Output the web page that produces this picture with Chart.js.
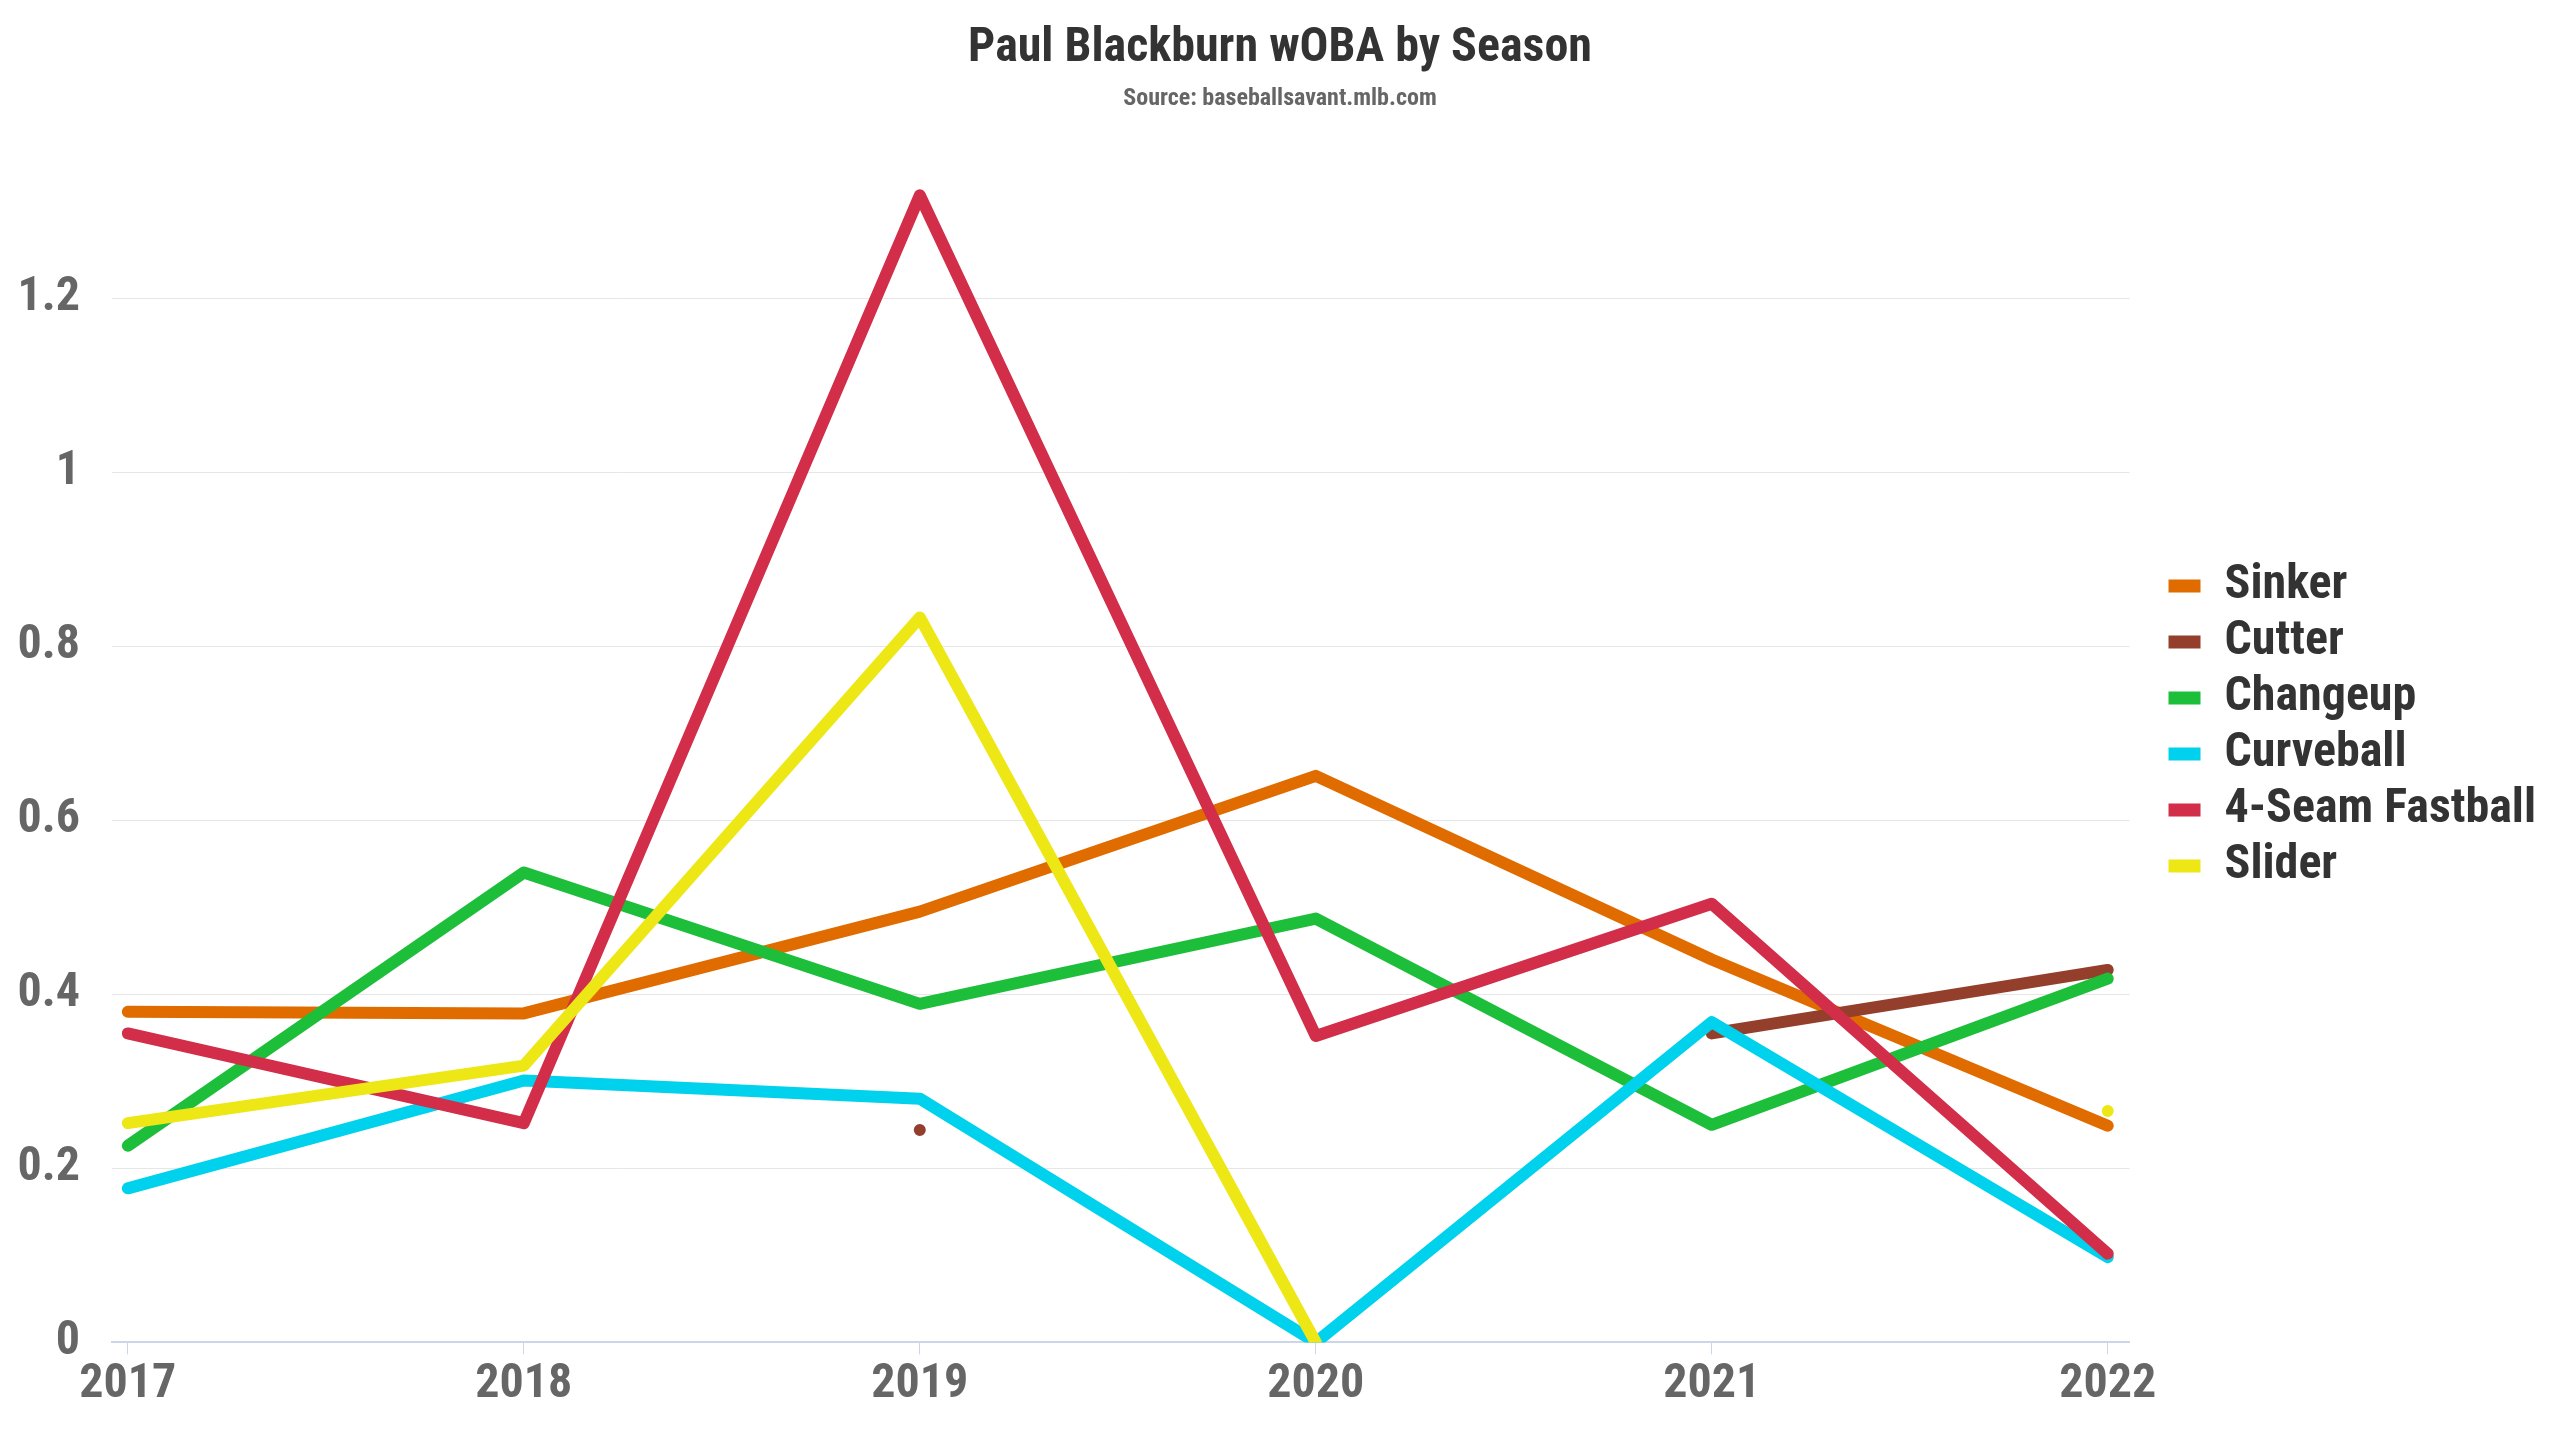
<!DOCTYPE html>
<html>
<head>
<meta charset="utf-8">
<script src="https://cdn.jsdelivr.net/npm/chart.js@4"></script>
<style>
  html, body { margin: 0; padding: 0; background: #ffffff; }
  #wrap { width: 2560px; height: 1440px; }
</style>
</head>
<body>
<div id="wrap"><canvas id="c"></canvas></div>
<script>
const seasons = [2017, 2018, 2019, 2020, 2021, 2022];
const yTicks = [0, 0.2, 0.4, 0.6, 0.8, 1, 1.2];
const seriesNames = ['Sinker', 'Cutter', 'Changeup', 'Curveball', '4-Seam Fastball', 'Slider'];
const sinker    = [0.380, 0.378, 0.495, 0.651, 0.440, 0.249];
const cutter    = [null, null, 0.244, null, 0.355, 0.428];
const changeup  = [0.226, 0.540, 0.389, 0.487, 0.250, 0.418];
const curveball = [0.177, 0.301, 0.280, 0.000, 0.368, 0.098];
const fourSeam  = [0.355, 0.252, 1.318, 0.352, 0.504, 0.102];
const slider    = [0.252, 0.318, 0.833, 0.000, null, 0.266];
const seriesValues = [sinker, cutter, changeup, curveball, fourSeam, slider];
const seriesColors = ['#E06C00', '#933F2C', '#1DBE3A', '#00D1ED', '#D22D49', '#EEE716'];

const FONT = "'Roboto Condensed', 'Liberation Sans Narrow', 'DejaVu Sans Condensed', sans-serif";

function isolatedRadius(ctx) {
  const d = ctx.dataset.data;
  const i = ctx.dataIndex;
  const prev = d[i - 1], next = d[i + 1];
  const cur = d[i];
  if (!cur || cur.y == null) return 0;
  const prevNull = !prev || prev.y == null;
  const nextNull = !next || next.y == null;
  return (prevNull && nextNull) ? 3 : 0;
}

const datasets = seriesNames.map((name, si) => ({
  label: name,
  data: seasons.map((s, i) => ({ x: s, y: seriesValues[si][i] })),
  borderColor: seriesColors[si],
  backgroundColor: seriesColors[si],
  pointBackgroundColor: seriesColors[si],
  borderWidth: 12,
  borderCapStyle: 'round',
  borderJoinStyle: 'round',
  pointRadius: isolatedRadius,
  pointHoverRadius: isolatedRadius,
  pointBorderWidth: 0,
  spanGaps: false,
  tension: 0,
  fill: false,
  clip: 0,
  order: seriesNames.length - 1 - si
}));

new Chart(document.getElementById('c'), {
  type: 'line',
  data: { datasets },
  options: {
    responsive: true,
    maintainAspectRatio: false,
    animation: false,
    devicePixelRatio: 1,
    layout: { padding: { left: 14, right: 14, top: 0, bottom: 24 } },
    plugins: {
      title: {
        display: true,
        text: 'Paul Blackburn wOBA by Season',
        color: '#333333',
        font: { family: FONT, size: 48, weight: 'bold' },
        padding: { top: 20, bottom: 0 }
      },
      subtitle: {
        display: true,
        text: 'Source: baseballsavant.mlb.com',
        color: '#666666',
        font: { family: FONT, size: 24, weight: 'bold' },
        padding: { top: 7, bottom: 28 }
      },
      legend: {
        display: true,
        position: 'right',
        align: 'center',
        title: { display: true, text: '', padding: 0, font: { family: FONT, size: 30 } },
        labels: {
          boxWidth: 32,
          boxHeight: 13,
          padding: 8,
          color: '#333333',
          font: { family: FONT, size: 48, weight: 'bold' },
          sort: (a, b) => a.datasetIndex - b.datasetIndex,
          generateLabels: (chart) => Chart.defaults.plugins.legend.labels.generateLabels(chart)
            .map(l => Object.assign({}, l, { lineWidth: 0 }))
        }
      },
      tooltip: { enabled: false }
    },
    scales: {
      x: {
        type: 'linear',
        min: 2016.96,
        max: 2022.055,
        grid: {
          display: true,
          drawOnChartArea: false,
          drawTicks: true,
          tickLength: 12,
          color: '#ccd6eb',
          lineWidth: 1
        },
        border: { display: true, color: '#ccd6eb', width: 2 },
        afterBuildTicks: (scale) => { scale.ticks = seasons.map(v => ({ value: v })); },
        ticks: {
          color: '#666666',
          padding: 2,
          maxRotation: 0,
          autoSkip: false,
          font: { family: FONT, size: 48, weight: 'bold' },
          callback: (v) => String(v)
        }
      },
      y: {
        type: 'linear',
        min: 0,
        max: 1.38,
        grid: {
          color: '#e6e6e6',
          lineWidth: 1,
          drawTicks: false
        },
        border: { display: false },
        afterBuildTicks: (scale) => { scale.ticks = yTicks.map(v => ({ value: v })); },
        afterFit: (scale) => { scale.width = 98; },
        ticks: {
          color: '#666666',
          padding: 32,
          font: { family: FONT, size: 48, weight: 'bold' },
          callback: (v) => String(Number(Number(v).toFixed(1)))
        }
      },
      gap: {
        type: 'linear',
        position: 'right',
        display: true,
        grid: { display: false },
        border: { display: false },
        ticks: { display: false },
        afterFit: (scale) => { scale.width = 31; }
      }
    }
  }
});
</script>
</body>
</html>
